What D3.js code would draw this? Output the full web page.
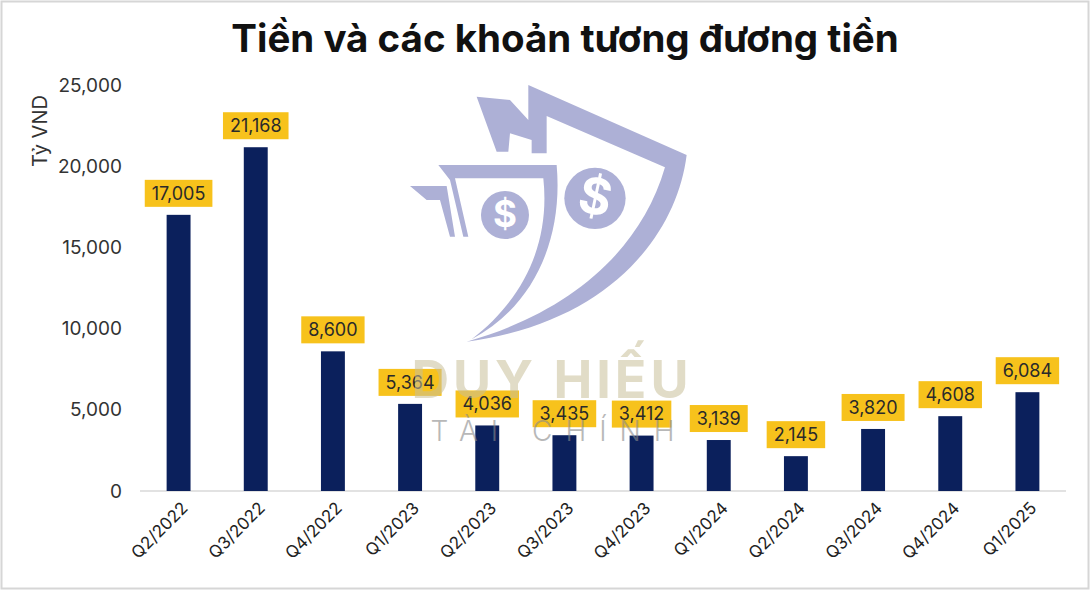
<!DOCTYPE html>
<html><head><meta charset="utf-8">
<script src="https://cdn.jsdelivr.net/npm/d3@7"></script>
<style>
html,body{margin:0;padding:0;background:#fff;}
svg{display:block;font-family:Inter,"Noto Sans",sans-serif;}
</style></head>
<body>
<svg id="chart" width="1091" height="591"></svg>
<script>
const categories = ["Q2/2022","Q3/2022","Q4/2022","Q1/2023","Q2/2023","Q3/2023","Q4/2023","Q1/2024","Q2/2024","Q3/2024","Q4/2024","Q1/2025"];
const values = [17005, 21168, 8600, 5364, 4036, 3435, 3412, 3139, 2145, 3820, 4608, 6084];
const yTicks = [0, 5000, 10000, 15000, 20000, 25000];
const title = "Tiền và các khoản tương đương tiền";
const yTitle = "Tỷ VND";

const svg = d3.select("#chart");
const W = 1091, H = 591;
const m = {left:140, right:25, top:85, bottom:100};

svg.append("rect").attr("x",1.5).attr("y",1.5).attr("width",W-4).attr("height",H-4)
  .attr("fill","#fff").attr("stroke","#d6d6d6").attr("stroke-width",2);

const x = d3.scaleBand().domain(categories).range([m.left, W - m.right]).paddingInner(0.69).paddingOuter(0.345);
const y = d3.scaleLinear().domain([0, 25000]).range([H - m.bottom, m.top]);

// watermark logo (behind)
const logo = svg.append("g").attr("transform","translate(400,80) scale(0.3333)").attr("fill","#a9acd4").attr("opacity",0.95);
logo.append("path").attr("d","M385,15 L860,225 C830,470 620,730 200,785 C500,700 720,520 795,262 L440,108 L440,220 L395,220 L395,180 L330,160 L325,215 L290,215 L230,50 L330,60 L385,120 Z");
logo.append("path").attr("d","M115,255 L470,255 C490,480 400,680 215,778 C380,650 450,480 430,295 L165,295 L205,470 L190,470 L150,300 Z");
logo.append("path").attr("d","M30,318 L140,318 L165,470 L150,470 L120,360 L80,360 Z");
logo.append("circle").attr("cx",315).attr("cy",405).attr("r",72);
logo.append("circle").attr("cx",585).attr("cy",355).attr("r",92);
logo.append("text").attr("x",315).attr("y",440).attr("text-anchor","middle").attr("font-size",110).attr("font-weight",700).attr("fill","#fff").text("$");
logo.append("text").attr("x",585).attr("y",402).attr("text-anchor","middle").attr("font-size",150).attr("font-weight",700).attr("fill","#fff").attr("transform","rotate(12,585,355)").text("$");

// title
svg.append("text").attr("x",565).attr("y",52).attr("text-anchor","middle")
  .attr("font-size",38.5).attr("font-weight",700).attr("fill","#111").text(title);

// y axis labels
svg.append("g").selectAll("text").data(yTicks).join("text")
  .attr("x",122).attr("y",d=>y(d)).attr("dy","0.35em").attr("text-anchor","end")
  .attr("font-size",19).attr("fill","#333").text(d=>d3.format(",")(d));

svg.append("text").attr("transform","translate(47,131) rotate(-90)").attr("text-anchor","middle")
  .attr("font-size",20).attr("fill","#333").text(yTitle);

// baseline
svg.append("line").attr("x1",m.left).attr("x2",W-m.right).attr("y1",y(0)).attr("y2",y(0))
  .attr("stroke","#d9d9d9").attr("stroke-width",1.5);

// bars
svg.append("g").selectAll("rect").data(values).join("rect")
  .attr("x",(d,i)=>x(categories[i])).attr("width",x.bandwidth())
  .attr("y",d=>y(d)).attr("height",d=>y(0)-y(d)).attr("fill","#0b205c");

// labels
const lg = svg.append("g");
values.forEach((v,i)=>{
  const cx = x(categories[i]) + x.bandwidth()/2;
  const g = lg.append("g");
  const t = g.append("text").attr("x",cx).attr("y",y(v)-21.5).attr("dy","0.35em")
    .attr("text-anchor","middle").attr("font-size",18).attr("fill","#2a2a2a").text(d3.format(",")(v));
  const bb = t.node().getBBox();
  g.insert("rect","text").attr("x",cx - bb.width/2 - 7).attr("width",bb.width+14)
    .attr("y",y(v)-35).attr("height",27).attr("fill","#f7c21c");
});

// x labels
svg.append("g").selectAll("text").data(categories).join("text")
  .attr("transform",d=>`translate(${x(d)+x.bandwidth()/2+6},${y(0)+14}) rotate(-45)`)
  .attr("text-anchor","end").attr("dy","0.35em").attr("font-size",17).attr("fill","#222").text(d=>d);

// watermark text (on top)
svg.append("text").attr("x",552).attr("y",398).attr("text-anchor","middle")
  .attr("font-size",52).attr("font-weight",700).attr("letter-spacing",4).attr("fill","#c9c09a").attr("opacity",0.55).text("DUY HIẾU");
svg.append("text").attr("x",559).attr("y",441).attr("text-anchor","middle")
  .attr("font-size",28).attr("font-weight",300).attr("letter-spacing",13).attr("fill","#8a8a8a").attr("opacity",0.6).text("TÀI CHÍNH");
</script>
</body></html>
